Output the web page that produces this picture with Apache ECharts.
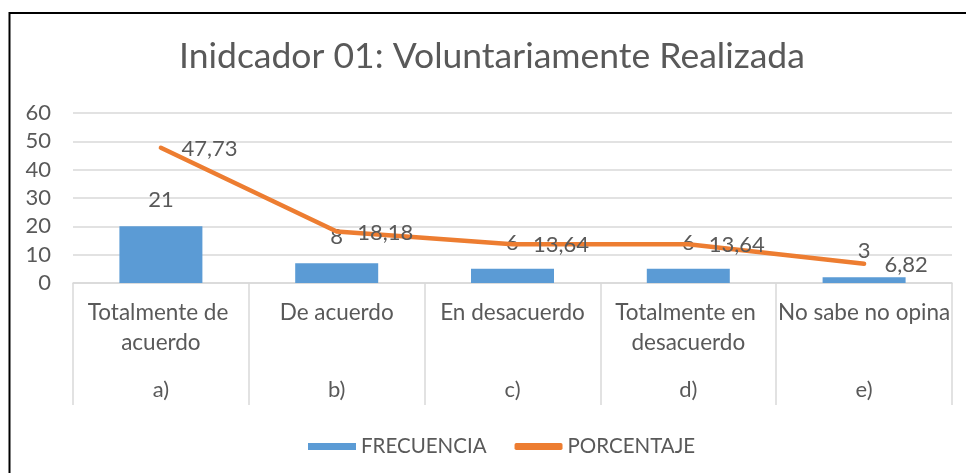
<!DOCTYPE html>
<html>
<head>
<meta charset="utf-8">
<script src="https://cdn.jsdelivr.net/npm/echarts@6/dist/echarts.min.js"></script>
<style>
  html, body { margin: 0; padding: 0; background: #fff; }
  #chart { width: 966px; height: 473px; }
</style>
</head>
<body>
<div id="chart"></div>
<script>
const categories = ['Totalmente de acuerdo', 'De acuerdo', 'En desacuerdo', 'Totalmente en desacuerdo', 'No sabe no opina'];
const letters = ['a)', 'b)', 'c)', 'd)', 'e)'];
const frecuencia = [21, 8, 6, 6, 3];
const porcentaje = [47.73, 18.18, 13.64, 13.64, 6.82];
const yTicks = { min: 0, max: 60, interval: 10 };

const txt = '#595959';
const grid = '#d9d9d9';
const font = 'Lato';

const chart = echarts.init(document.getElementById('chart'));

chart.setOption({
  animation: false,
  textStyle: { fontFamily: font },
  graphic: [{
    type: 'rect',
    shape: { x: 9.5, y: 13, width: 1000, height: 500 },
    style: { fill: 'none', stroke: '#000', lineWidth: 2 },
    silent: true
  }],
  title: {
    text: 'Inidcador 01: Voluntariamente Realizada',
    left: 179,
    top: 39,
    padding: 0,
    textStyle: { fontFamily: font, fontSize: 35.5, fontWeight: 'normal', color: txt }
  },
  legend: {
    left: 303,
    top: 431,
    itemWidth: 48,
    itemHeight: 7,
    itemGap: 28,
    textStyle: { fontFamily: font, fontSize: 20.5, color: txt },
    data: [
      { name: 'FRECUENCIA', icon: 'rect' },
      { name: 'PORCENTAJE', icon: 'roundRect' }
    ]
  },
  grid: { left: 73, right: 14, top: 113, bottom: 190 },
  xAxis: [
    {
      type: 'category',
      data: categories,
      position: 'bottom',
      axisLine: { lineStyle: { color: grid, width: 1.5 } },
      axisTick: { show: true, length: 122, lineStyle: { color: grid, width: 1.5 } },
      axisLabel: {
        interval: 0, margin: 15, fontSize: 22.5, color: txt, lineHeight: 30,
        width: 186, overflow: 'break'
      }
    },
    {
      type: 'category',
      data: letters,
      position: 'bottom',
      axisLine: { show: false },
      axisTick: { show: false },
      axisLabel: { interval: 0, margin: 96, fontSize: 22, color: txt }
    }
  ],
  yAxis: [
    {
      type: 'value',
      min: yTicks.min, max: yTicks.max, interval: yTicks.interval,
      axisLine: { show: false },
      axisTick: { show: false },
      splitLine: { lineStyle: { color: grid, width: 1.5 } },
      axisLabel: { margin: 22, fontSize: 22, color: txt }
    },
    {
      // the bars in the original sit one unit below their labels
      type: 'value', min: 1, max: 61, show: false
    }
  ],
  series: [
    {
      name: 'FRECUENCIA',
      type: 'bar',
      yAxisIndex: 1,
      data: frecuencia,
      barWidth: 83,
      itemStyle: { color: '#5B9BD5' },
      label: { show: true, position: 'top', distance: 15, fontSize: 22, color: txt, fontFamily: font }
    },
    {
      name: 'PORCENTAJE',
      type: 'line',
      data: porcentaje,
      symbol: 'circle',
      symbolSize: 1,
      itemStyle: { color: '#ED7D31' },
      lineStyle: { color: '#ED7D31', width: 4.5, cap: 'round', join: 'round' },
      label: {
        show: true, position: 'right', distance: 20, fontSize: 22, color: txt, fontFamily: font,
        offset: [0, 1],
        formatter: p => String(p.value).replace('.', ',')
      }
    }
  ]
});
</script>
</body>
</html>
